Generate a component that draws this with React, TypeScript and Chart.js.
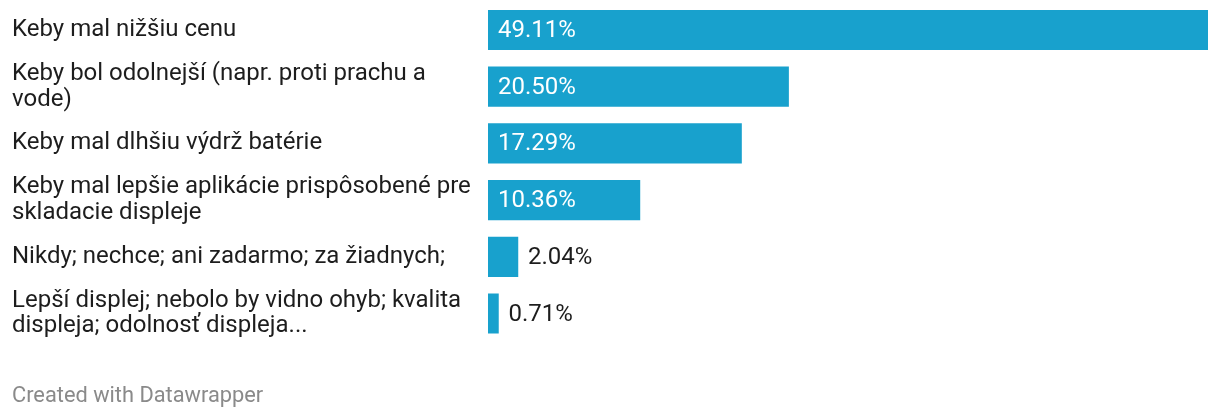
import React, { useEffect, useRef } from "react";
import { Chart, registerables } from "chart.js";

Chart.register(...registerables);

const categories: (string | string[])[] = [
  "Keby mal nižšiu cenu",
  ["Keby bol odolnejší (napr. proti prachu a", "vode)"],
  "Keby mal dlhšiu výdrž batérie",
  ["Keby mal lepšie aplikácie prispôsobené pre", "skladacie displeje"],
  "Nikdy; nechce; ani zadarmo; za žiadnych;",
  ["Lepší displej; nebolo by vidno ohyb; kvalita", "displeja; odolnosť displeja..."],
];

const values: number[] = [49.11, 20.5, 17.29, 10.36, 2.04, 0.71];

const footerText = "Created with Datawrapper";

const BAR_COLOR = "#18a1cd";
const TEXT_COLOR = "#1d1d1d";
const FONT = "Roboto";

const valueLabelPlugin = {
  id: "valueLabels",
  afterDatasetsDraw(chart: any) {
    const ctx = chart.ctx;
    const meta = chart.getDatasetMeta(0);
    ctx.save();
    ctx.font = `24px ${FONT}`;
    ctx.textBaseline = "middle";
    ctx.textAlign = "left";
    meta.data.forEach((bar: any, i: number) => {
      const text = values[i].toFixed(2) + "%";
      const tw = ctx.measureText(text).width;
      const barWidth = bar.x - bar.base;
      if (tw + 20 <= barWidth) {
        ctx.fillStyle = "#ffffff";
        ctx.fillText(text, bar.base + 10, bar.y + 1);
      } else {
        ctx.fillStyle = TEXT_COLOR;
        ctx.fillText(text, bar.x + 10, bar.y + 1);
      }
    });
    ctx.restore();
  },
};

export default function App() {
  const canvasRef = useRef<HTMLCanvasElement | null>(null);

  useEffect(() => {
    let chart: Chart | null = null;
    let cancelled = false;
    const build = () => {
      if (cancelled || !canvasRef.current) return;
      chart = new Chart(canvasRef.current, {
        type: "bar",
        data: {
          labels: categories,
          datasets: [
            {
              data: values,
              backgroundColor: BAR_COLOR,
              borderWidth: 0,
              barThickness: 39.5,
            },
          ],
        },
        options: {
          indexAxis: "y",
          animation: false,
          responsive: false,
          maintainAspectRatio: false,
          layout: { padding: { left: 12, right: 12, top: 1.65, bottom: 78.15 } },
          plugins: {
            legend: { display: false },
            tooltip: { enabled: false },
          },
          scales: {
            x: {
              display: false,
              min: 0,
              max: Math.max(...values),
            },
            y: {
              position: "left",
              grid: { display: false },
              border: { display: false },
              ticks: {
                autoSkip: false,
                crossAlign: "far",
                padding: 0,
                color: TEXT_COLOR,
                font: { family: FONT, size: 24, lineHeight: 1.08 },
              },
              afterFit(scale: any) {
                scale.width = 476;
                scale.paddingTop = 0;
                scale.paddingBottom = 0;
              },
            },
          },
        },
        plugins: [valueLabelPlugin],
      });
    };
    const fontsApi = (document as any).fonts;
    if (fontsApi && fontsApi.load) {
      Promise.all([fontsApi.load(`24px ${FONT}`), fontsApi.load(`22px ${FONT}`)])
        .catch(() => {})
        .then(build);
    } else {
      build();
    }
    return () => {
      cancelled = true;
      if (chart) chart.destroy();
    };
  }, []);

  return (
    <div
      style={{
        position: "fixed",
        left: 0,
        top: 0,
        width: 1220,
        height: 420,
        background: "#ffffff",
      }}
    >
      <canvas ref={canvasRef} width={1220} height={420} style={{ display: "block" }} />
      <div
        style={{
          position: "absolute",
          left: 12,
          top: 383,
          fontFamily: FONT,
          fontSize: 21.8,
          lineHeight: "24px",
          color: "#8a8a8a",
          whiteSpace: "nowrap",
        }}
      >
        {footerText}
      </div>
    </div>
  );
}
